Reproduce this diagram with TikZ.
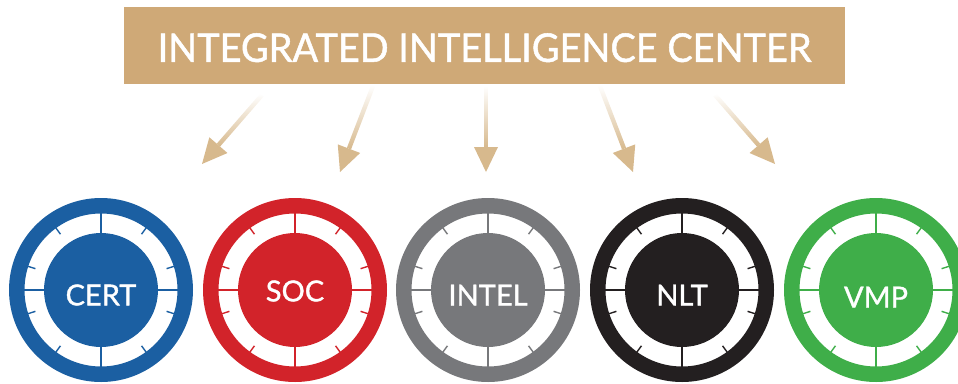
\documentclass[tikz,border=0pt]{standalone}
\usepackage{fontspec}
\setmainfont{Lato}
\newfontfamily\bannerfont[FakeBold=1.2, FakeStretch=0.96]{Lato}
\newfontfamily\dialfont[FakeBold=1.2]{Lato}
\usepackage{tikz}
\usetikzlibrary{calc, fadings}
\definecolor{IIC_Tan}{HTML}{CFA977}
\definecolor{Arrow_Tan}{HTML}{D7B98D}
\definecolor{CERT_Blue}{HTML}{1B5FA2}
\definecolor{SOC_Red}{HTML}{D2232A}
\definecolor{INTEL_Gray}{HTML}{77787B}
\definecolor{NLT_Black}{HTML}{231F20}
\definecolor{VMP_Green}{HTML}{3FAE49}
\tikzfading[name=shaft fade, top color=transparent!100, bottom color=transparent!0]

\begin{document}
\begin{tikzpicture}[x=1pt, y=-1pt,
  hub/.style={circle, minimum size=114pt, inner sep=0pt, text=white,
    font=\dialfont\fontsize{29}{29}\selectfont}]
\useasboundingbox (0,0) rectangle (958,383);
% --- Banner ---
\node[fill=IIC_Tan, minimum width=721pt, minimum height=77pt, inner sep=0pt,
  text=white, text height=33pt, font=\bannerfont\fontsize{39.5}{40}\selectfont]
  (iic) at (484.5,45.5) {INTEGRATED INTELLIGENCE CENTER};
% --- Arrows: tail and tip of each one ---
\coordinate (t1) at (262,95);  \coordinate (h1) at (202,164);
\coordinate (t2) at (373,86);  \coordinate (h2) at (340,172);
\coordinate (t3) at (486,86);  \coordinate (h3) at (486,172);
\coordinate (t4) at (600,86);  \coordinate (h4) at (633,172);
\coordinate (t5) at (715,95);  \coordinate (h5) at (775,164);
\foreach \i in {1,...,5} {
  \coordinate (b\i) at ($(h\i)!25pt!(t\i)$);
  % shaft fades out towards the banner
  \fill[Arrow_Tan, path fading=shaft fade]
    ($(t\i)!2.2pt!90:(h\i)$) -- ($(t\i)!2.2pt!-90:(h\i)$)
    -- ($(b\i)!2.2pt!90:(t\i)$) -- ($(b\i)!2.2pt!-90:(t\i)$) -- cycle;
  \fill[Arrow_Tan] (h\i) -- ($(b\i)!12pt!90:(h\i)$) -- ($(b\i)!12pt!-90:(h\i)$) -- cycle;
}
% --- Dials ---
\foreach \name/\lbl/\col/\cx/\capht in {cert/CERT/CERT_Blue/101/31,
    soc/SOC/SOC_Red/295/23, intel/INTEL/INTEL_Gray/488/31,
    nlt/NLT/NLT_Black/682/31, vmp/VMP/VMP_Green/876/35} {
  \fill[\col, even odd rule] (\cx,290) circle (92) (\cx,290) circle (76.5);
  \node[hub, fill=\col, text height=\capht pt] (\name) at (\cx,290) {\lbl};
  \foreach \a in {0,90,180,270}
    \draw[\col, line width=2pt] ($(\name.center)+(\a:56)$) -- ($(\name.center)+(\a:77)$);
  \foreach \a in {18,54,126,162,198,234,306,342}
    \draw[\col, line width=1.4pt] ($(\name.center)+(\a:69)$) -- ($(\name.center)+(\a:77)$);
}
\end{tikzpicture}
\end{document}
